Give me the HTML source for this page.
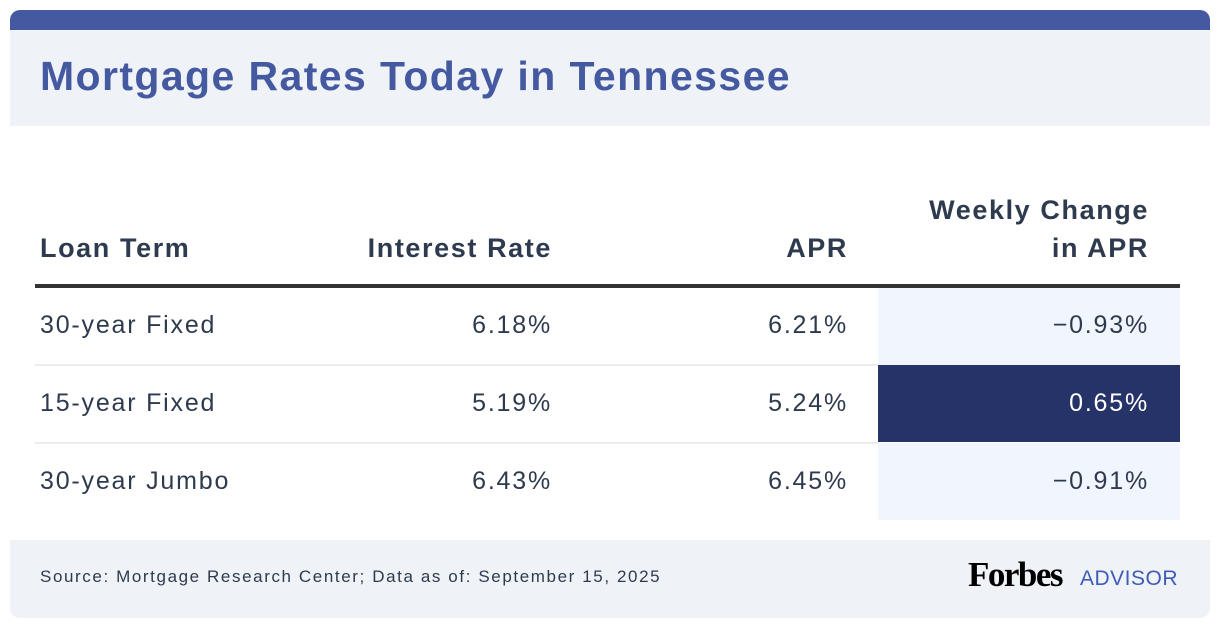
<!DOCTYPE html>
<html><head><meta charset="utf-8"><style>
*{margin:0;padding:0;box-sizing:border-box}
body{width:1220px;height:628px;background:#fff;font-family:"Liberation Sans",sans-serif;position:relative;overflow:hidden;color:#2e3a4d}
.abs{position:absolute}
#topbar{left:10px;top:10px;width:1200px;height:22px;background:#4559a0;border-radius:10px 10px 0 0}
#header{left:10px;top:30px;width:1200px;height:96px;background:#eff3f8}
#title{left:40px;top:53px;font-size:41px;font-weight:bold;color:#4559a0;letter-spacing:1.4px}
.th{font-size:27px;font-weight:bold;color:#2e3a4d;line-height:38px;letter-spacing:1.6px}
.td{font-size:25px;color:#2e3a4d;line-height:30px;letter-spacing:1.8px}
.r{text-align:right}
#rule{left:35px;top:284px;width:1145px;height:4px;background:#333}
.sep{left:35px;width:843px;height:2px;background:#ececec}
.wc{left:878px;width:302px}
#footer{left:10px;top:540px;width:1200px;height:78px;background:#eff3f8;border-radius:0 0 10px 10px}
</style></head><body>
<div class="abs" id="topbar"></div>
<div class="abs" id="header"></div>
<div class="abs" id="title">Mortgage Rates Today in Tennessee</div>

<div class="abs th" style="left:40px;top:229px">Loan Term</div>
<div class="abs th r" style="left:252px;width:300px;top:229px">Interest Rate</div>
<div class="abs th r" style="left:648px;width:200px;top:229px">APR</div>
<div class="abs th r" style="left:849px;width:300px;top:191px">Weekly Change<br>in APR</div>
<div class="abs" id="rule"></div>

<div class="abs wc" style="top:288px;height:77px;background:#f1f5fd"></div>
<div class="abs wc" style="top:365px;height:77px;background:#263369"></div>
<div class="abs wc" style="top:443px;height:77px;background:#f1f5fd"></div>
<div class="abs sep" style="top:364px"></div>
<div class="abs sep" style="top:442px"></div>

<div class="abs td" style="left:40px;top:310px">30-year Fixed</div>
<div class="abs td r" style="left:352px;width:200px;top:310px">6.18%</div>
<div class="abs td r" style="left:648px;width:200px;top:310px">6.21%</div>
<div class="abs td r" style="left:949px;width:200px;top:310px">−0.93%</div>

<div class="abs td" style="left:40px;top:388px">15-year Fixed</div>
<div class="abs td r" style="left:352px;width:200px;top:388px">5.19%</div>
<div class="abs td r" style="left:648px;width:200px;top:388px">5.24%</div>
<div class="abs td r" style="left:949px;width:200px;top:388px;color:#fff">0.65%</div>

<div class="abs td" style="left:40px;top:466px">30-year Jumbo</div>
<div class="abs td r" style="left:352px;width:200px;top:466px">6.43%</div>
<div class="abs td r" style="left:648px;width:200px;top:466px">6.45%</div>
<div class="abs td r" style="left:949px;width:200px;top:466px">−0.91%</div>

<div class="abs" id="footer"></div>
<div class="abs" style="left:40px;top:567px;font-size:17px;color:#2e3a4d;letter-spacing:1.6px">Source: Mortgage Research Center; Data as of: September 15, 2025</div>
<div class="abs" style="left:968px;top:555px;font-family:'Liberation Serif',serif;font-weight:bold;font-size:35px;color:#000;letter-spacing:-1.5px">Forbes</div>
<div class="abs" style="left:1080px;top:567px;font-size:21px;color:#3f5bb5;letter-spacing:0.5px">ADVISOR</div>
</body></html>
